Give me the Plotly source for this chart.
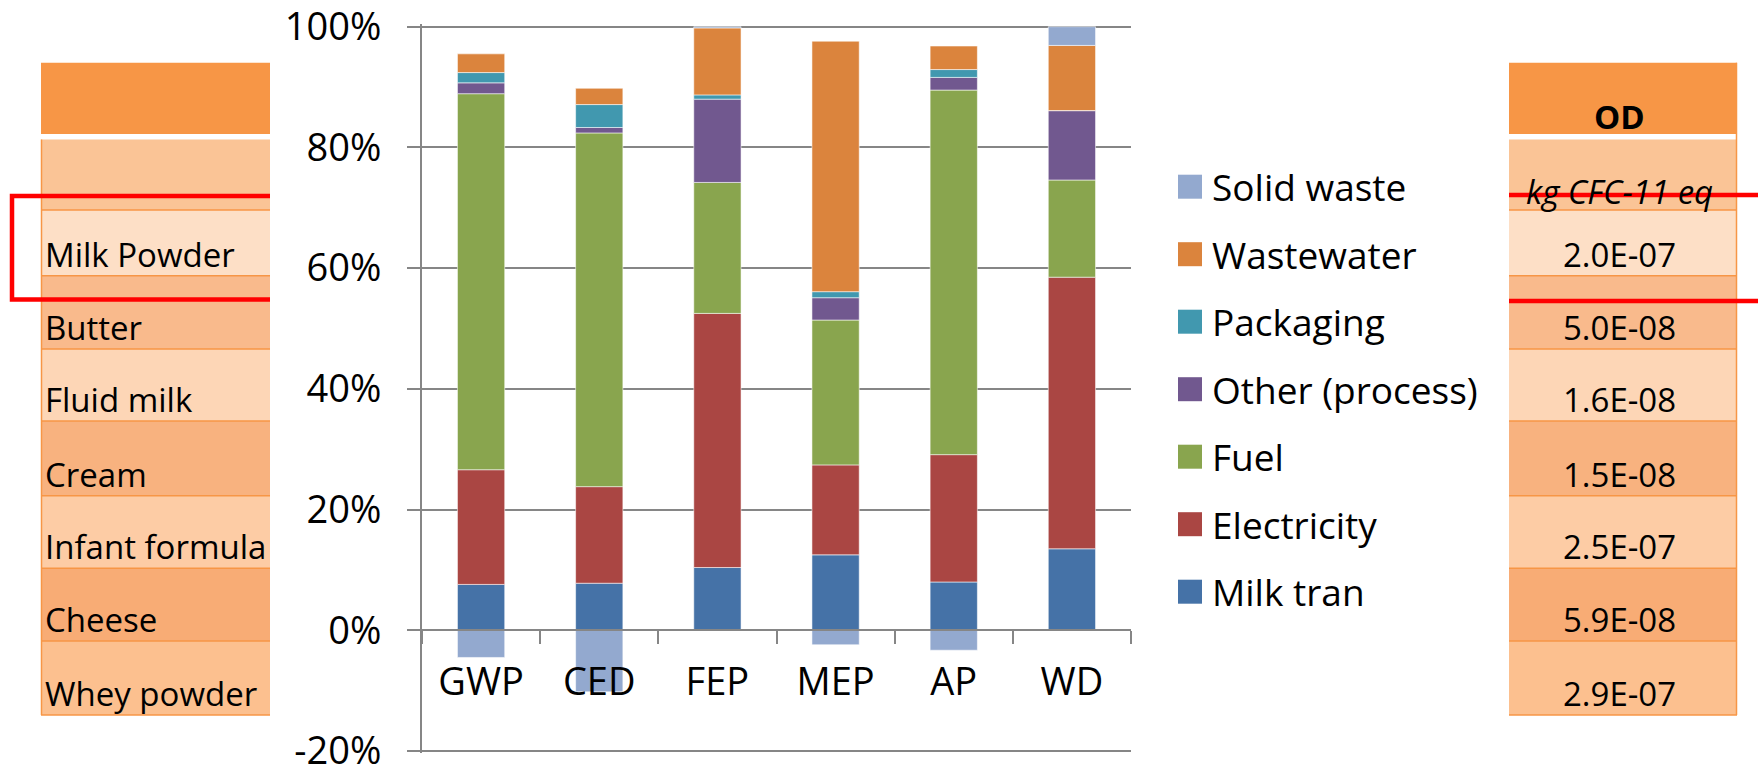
import plotly.graph_objects as go

W, H = 1758, 768
FONT = "Open Sans"

# ---- chart data (percent contribution per impact category) ----
categories = ["GWP", "CED", "FEP", "MEP", "AP", "WD"]
series_names = ["Milk tran", "Electricity", "Fuel", "Other (process)",
                "Packaging", "Wastewater", "Solid waste"]
milk_tran = [7.6, 7.8, 10.4, 12.5, 8.0, 13.5]
electricity = [19.0, 16.0, 42.1, 14.9, 21.1, 45.0]
fuel = [62.3, 58.6, 21.7, 24.0, 60.4, 16.1]
other_process = [1.8, 0.9, 13.8, 3.7, 2.1, 11.5]
packaging = [1.7, 3.8, 0.7, 1.0, 1.3, 0.0]
wastewater = [3.1, 2.7, 11.1, 41.5, 3.9, 10.8]
solid_waste = [-4.5, -10.2, 0.2, -2.4, -3.3, 3.1]
series_colors = ["#4572A7", "#AA4643", "#89A54E", "#71588F",
                 "#4198AF", "#DB843D", "#93A9CF"]

y_ticks = [-20, 0, 20, 40, 60, 80, 100]

# ---- side tables ----
products = ["Milk Powder", "Butter", "Fluid milk", "Cream",
            "Infant formula", "Cheese", "Whey powder"]
od_header = "OD"
od_unit = "kg CFC-11 eq"
od_values = ["2.0E-07", "5.0E-08", "1.6E-08", "1.5E-08",
             "2.5E-07", "5.9E-08", "2.9E-07"]


def fx(px):
    return px / W


def fy(py):
    return 1 - py / H


series_values = [milk_tran, electricity, fuel, other_process,
                 packaging, wastewater, solid_waste]

fig = go.Figure()
for name, vals, col in zip(series_names, series_values, series_colors):
    fig.add_trace(go.Bar(
        x=categories, y=vals, name=name, showlegend=False,
        marker=dict(color=col, line=dict(color="rgba(255,255,255,0.55)", width=1)),
        hovertemplate="%{x}: %{y:.1f}%<extra>" + name + "</extra>",
    ))

# plot area in pixels; the value range is padded a hair so the
# outermost gridlines (-20% and 100%) are still drawn
X0, X1 = 422, 1131
Y_TOP, Y_BOT = 26.7, 751
ymin, ymax = y_ticks[0], y_ticks[-1]
PAD = 0.4
px_per_unit = (Y_BOT - Y_TOP) / (ymax - ymin)
ydom = [fy(Y_BOT + PAD * px_per_unit), fy(Y_TOP - PAD * px_per_unit)]
yrange = [ymin - PAD, ymax + PAD]
zero_pos = ydom[0] + (0 - yrange[0]) / (yrange[1] - yrange[0]) * (ydom[1] - ydom[0])

AXIS_GREY = "#868686"
AXIS_FONT = 38

fig.update_layout(
    width=W, height=H,
    margin=dict(l=0, r=0, t=0, b=0, pad=0),
    paper_bgcolor="white", plot_bgcolor="white",
    barmode="relative", bargap=0.6,
    font=dict(family=FONT, color="black"),
    xaxis=dict(
        domain=[fx(X0), fx(X1)], type="category",
        anchor="free", position=zero_pos, automargin=False,
        showline=True, linecolor=AXIS_GREY, linewidth=2,
        ticks="outside", tickson="boundaries", ticklen=13, tickwidth=2,
        tickcolor=AXIS_GREY, showgrid=False,
        tickfont=dict(family=FONT, size=AXIS_FONT, color="black"),
        ticklabelstandoff=18,
    ),
    yaxis=dict(
        domain=ydom, range=yrange, automargin=False,
        tickvals=y_ticks, ticktext=[f"{v}%" for v in y_ticks],
        showline=True, linecolor=AXIS_GREY, linewidth=2,
        ticks="outside", ticklen=13, tickwidth=2, tickcolor=AXIS_GREY,
        showgrid=True, gridcolor=AXIS_GREY, gridwidth=2, zeroline=False,
        tickfont=dict(family=FONT, size=AXIS_FONT, color="black"),
        ticklabelstandoff=18, ticklabeloverflow="allow",
    ),
)

shapes = []
annotations = []

# ---- legend (drawn manually for large swatches) ----
LEG_X, LEG_SW, LEG_Y0, LEG_DY = 1178, 24, 186.7, 67.5
for i, idx in enumerate(reversed(range(len(series_names)))):
    cy = LEG_Y0 + i * LEG_DY
    shapes.append(dict(type="rect", xref="paper", yref="paper",
                       x0=fx(LEG_X), x1=fx(LEG_X + LEG_SW),
                       y0=fy(cy + LEG_SW / 2), y1=fy(cy - LEG_SW / 2),
                       fillcolor=series_colors[idx], line=dict(width=0)))
    annotations.append(dict(xref="paper", yref="paper", x=fx(1210), y=fy(cy),
                            xanchor="left", yanchor="middle", showarrow=False,
                            text=series_names[idx],
                            font=dict(family=FONT, size=37, color="black")))

# ---- tables ----
HEAD_TOP, HEAD_BOT = 62.7, 134
UNIT_TOP, UNIT_BOT = 139.5, 210
row_edges = [210, 275.7, 349, 421, 495.7, 568.3, 641, 715]
HEAD_COLOR = "#F79646"
UNIT_COLOR = "#FAC496"
row_colors = ["#FDDFC6", "#F9BA8C", "#FDD6B6", "#F8B27F",
              "#FDCCA5", "#F8AC75", "#FCC08F"]
BORDER = "#F79646"

tables = [(41, 270), (1509, 1737)]
for tx0, tx1 in tables:
    shapes.append(dict(type="rect", xref="paper", yref="paper",
                       x0=fx(tx0), x1=fx(tx1), y0=fy(HEAD_BOT), y1=fy(HEAD_TOP),
                       fillcolor=HEAD_COLOR, line=dict(width=0), layer="below"))
    shapes.append(dict(type="rect", xref="paper", yref="paper",
                       x0=fx(tx0), x1=fx(tx1), y0=fy(UNIT_BOT), y1=fy(UNIT_TOP),
                       fillcolor=UNIT_COLOR, line=dict(width=0), layer="below"))
    for r in range(len(products)):
        shapes.append(dict(type="rect", xref="paper", yref="paper",
                           x0=fx(tx0), x1=fx(tx1),
                           y0=fy(row_edges[r + 1]), y1=fy(row_edges[r]),
                           fillcolor=row_colors[r], line=dict(width=0), layer="below"))
    for e in row_edges:
        shapes.append(dict(type="line", xref="paper", yref="paper",
                           x0=fx(tx0), x1=fx(tx1), y0=fy(e), y1=fy(e),
                           line=dict(color=BORDER, width=1.5), layer="below"))

# outer vertical borders
shapes.append(dict(type="line", xref="paper", yref="paper",
                   x0=fx(41.5), x1=fx(41.5), y0=fy(715), y1=fy(UNIT_TOP),
                   line=dict(color=BORDER, width=1.5), layer="below"))
shapes.append(dict(type="line", xref="paper", yref="paper",
                   x0=fx(1736.5), x1=fx(1736.5), y0=fy(715), y1=fy(HEAD_TOP),
                   line=dict(color=BORDER, width=1.5), layer="below"))

TXT = 33
for r, name in enumerate(products):
    ty = row_edges[r + 1] - 21.5
    annotations.append(dict(xref="paper", yref="paper", x=fx(43), y=fy(ty),
                            xanchor="left", yanchor="middle", showarrow=False,
                            text=name, font=dict(family=FONT, size=TXT, color="black")))
    annotations.append(dict(xref="paper", yref="paper", x=fx(1619), y=fy(ty),
                            xanchor="center", yanchor="middle", showarrow=False,
                            text=od_values[r], font=dict(family=FONT, size=TXT, color="black")))

annotations.append(dict(xref="paper", yref="paper", x=fx(1619), y=fy(116.7),
                        xanchor="center", yanchor="middle", showarrow=False,
                        text="<b>" + od_header + "</b>",
                        font=dict(family=FONT, size=33, color="black")))
annotations.append(dict(xref="paper", yref="paper", x=fx(1619), y=fy(191.7),
                        xanchor="center", yanchor="middle", showarrow=False,
                        text="<i>" + od_unit + "</i>",
                        font=dict(family=FONT, size=TXT, color="black")))

# ---- red highlight around the Milk Powder row ----
RED = "#FF0000"
shapes.append(dict(type="path", xref="paper", yref="paper",
                   path=(f"M {fx(270)},{fy(196)} L {fx(12)},{fy(196)} "
                         f"L {fx(12)},{fy(299.5)} L {fx(270)},{fy(299.5)}"),
                   line=dict(color=RED, width=4.5), layer="above"))
for yy in (195, 301):
    shapes.append(dict(type="line", xref="paper", yref="paper",
                       x0=fx(1509), x1=1, y0=fy(yy), y1=fy(yy),
                       line=dict(color=RED, width=4.5), layer="above"))

fig.update_layout(shapes=shapes, annotations=annotations)
fig.write_html("out.html")
